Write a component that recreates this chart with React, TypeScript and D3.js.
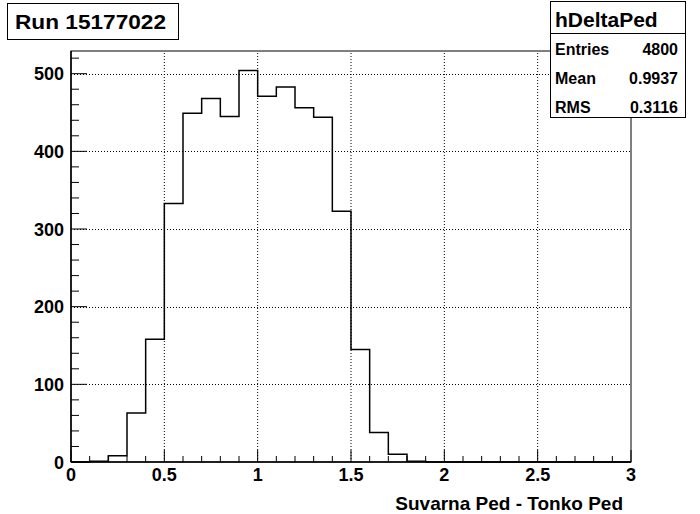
import React from "react";
import * as d3 from "d3";

const binEdgesLow = [0.0, 0.1, 0.2, 0.3, 0.4, 0.5, 0.6, 0.7, 0.8, 0.9, 1.0, 1.1, 1.2, 1.3, 1.4, 1.5, 1.6, 1.7, 1.8, 1.9, 2.0, 2.1, 2.2, 2.3, 2.4, 2.5, 2.6, 2.7, 2.8, 2.9];
const binWidth = 0.1;
const counts = [0, 1, 8, 63, 158, 333, 449, 468, 445, 504, 471, 483, 456, 444, 323, 145, 38, 10, 1, 0, 0, 0, 0, 0, 0, 0, 0, 0, 0, 0];
const xTickLabels = ["0", "0.5", "1", "1.5", "2", "2.5", "3"];
const yTickValues = [0, 100, 200, 300, 400, 500];
const titleText = "Run 15177022";
const statsName = "hDeltaPed";
const statsRows = [["Entries", "4800"], ["Mean", "0.9937"], ["RMS", "0.3116"]];
const xAxisTitle = "Suvarna Ped - Tonko Ped";

const W = 700, H = 514;
const L = 71, R = 631, T = 51, B = 462;
const FONT = "'Liberation Sans', Arial, Helvetica, sans-serif";

export default function App() {
  const x = d3.scaleLinear().domain([0, 3]).range([L, R]);
  const yMax = d3.max(counts)! * 1.05;
  const y = d3.scaleLinear().domain([0, yMax]).range([B, T]);

  // histogram step path
  let d = `M${x(binEdgesLow[0])},${y(counts[0])}`;
  binEdgesLow.forEach((lo, i) => {
    if (i > 0) d += `L${x(lo)},${y(counts[i])}`;
    d += `L${x(lo + binWidth)},${y(counts[i])}`;
  });

  const xMajor = xTickLabels.map((t) => +t);
  const xMinor = d3.range(0, 31).map((i) => i * 0.1).filter((v) => Math.abs(v * 2 - Math.round(v * 2)) > 1e-6);
  const yMinor = d3.range(0, Math.floor(yMax / 20) + 1).map((i) => i * 20).filter((v) => v % 100 !== 0 && v <= yMax);

  return (
    <svg width={W} height={H} style={{ position: "absolute", left: 0, top: 0, background: "#fff" }} fontFamily={FONT}>
      <rect x={0} y={0} width={W} height={H} fill="#fff" />
      {/* grid */}
      {xMajor.filter((v) => v > 0 && v < 3).map((v) => (
        <line key={"gx" + v} x1={x(v)} x2={x(v)} y1={B} y2={T} stroke="#000" strokeWidth={1} strokeDasharray="1 2" />
      ))}
      {yTickValues.filter((v) => v > 0).map((v) => (
        <line key={"gy" + v} x1={L} x2={R} y1={Math.round(y(v)) + 0.5} y2={Math.round(y(v)) + 0.5} stroke="#000" strokeWidth={1} strokeDasharray="1 2" />
      ))}
      {/* histogram */}
      <path d={d} fill="none" stroke="#000" strokeWidth={1.5} />
      {/* frame */}
      <rect x={L} y={T} width={R - L} height={B - T} fill="none" stroke="#000" strokeWidth={1} />
      <line x1={L} x2={R} y1={B} y2={B} stroke="#000" strokeWidth={1.5} />
      <line x1={L} x2={L} y1={B} y2={T} stroke="#000" strokeWidth={1.5} />
      {/* x ticks */}
      {xMajor.map((v) => (
        <line key={"xt" + v} x1={x(v)} x2={x(v)} y1={B} y2={B - 12} stroke="#000" strokeWidth={1} />
      ))}
      {xMinor.map((v) => (
        <line key={"xm" + v} x1={x(v)} x2={x(v)} y1={B} y2={B - 6} stroke="#000" strokeWidth={1} />
      ))}
      {xTickLabels.map((t) => (
        <text key={"xl" + t} x={x(+t)} y={481} fontSize={18} fontWeight="bold" textAnchor="middle">{t}</text>
      ))}
      {/* y ticks */}
      {yTickValues.map((v) => (
        <line key={"yt" + v} x1={L} x2={L + 16} y1={y(v)} y2={y(v)} stroke="#000" strokeWidth={1} />
      ))}
      {yMinor.map((v) => (
        <line key={"ym" + v} x1={L} x2={L + 8} y1={y(v)} y2={y(v)} stroke="#000" strokeWidth={1} />
      ))}
      {yTickValues.map((v) => (
        <text key={"yl" + v} x={64} y={v === 0 ? y(v) + 7 : y(v) + 6.5} fontSize={18} fontWeight="bold" textAnchor="end">{v}</text>
      ))}
      {/* axis title */}
      <text x={623} y={510} fontSize={19} fontWeight="bold" textAnchor="end">{xAxisTitle}</text>
      {/* title box */}
      <rect x={7.5} y={3.5} width={171} height={36} fill="#fff" stroke="#000" strokeWidth={1} />
      <text x={15} y={29} fontSize={21} fontWeight="bold" textLength={151} lengthAdjust="spacingAndGlyphs">{titleText}</text>
      {/* stats box */}
      <rect x={550.5} y={1.5} width={135} height={116} fill="#fff" stroke="#000" strokeWidth={1} />
      <line x1={550.5} x2={685.5} y1={33.5} y2={33.5} stroke="#000" strokeWidth={1} />
      <text x={555} y={27} fontSize={21} fontWeight="bold">{statsName}</text>
      {statsRows.map((r, i) => (
        <g key={r[0]}>
          <text x={555} y={55 + i * 29} fontSize={16} fontWeight="bold">{r[0]}</text>
          <text x={678} y={55 + i * 29} fontSize={16} fontWeight="bold" textAnchor="end">{r[1]}</text>
        </g>
      ))}
    </svg>
  );
}
